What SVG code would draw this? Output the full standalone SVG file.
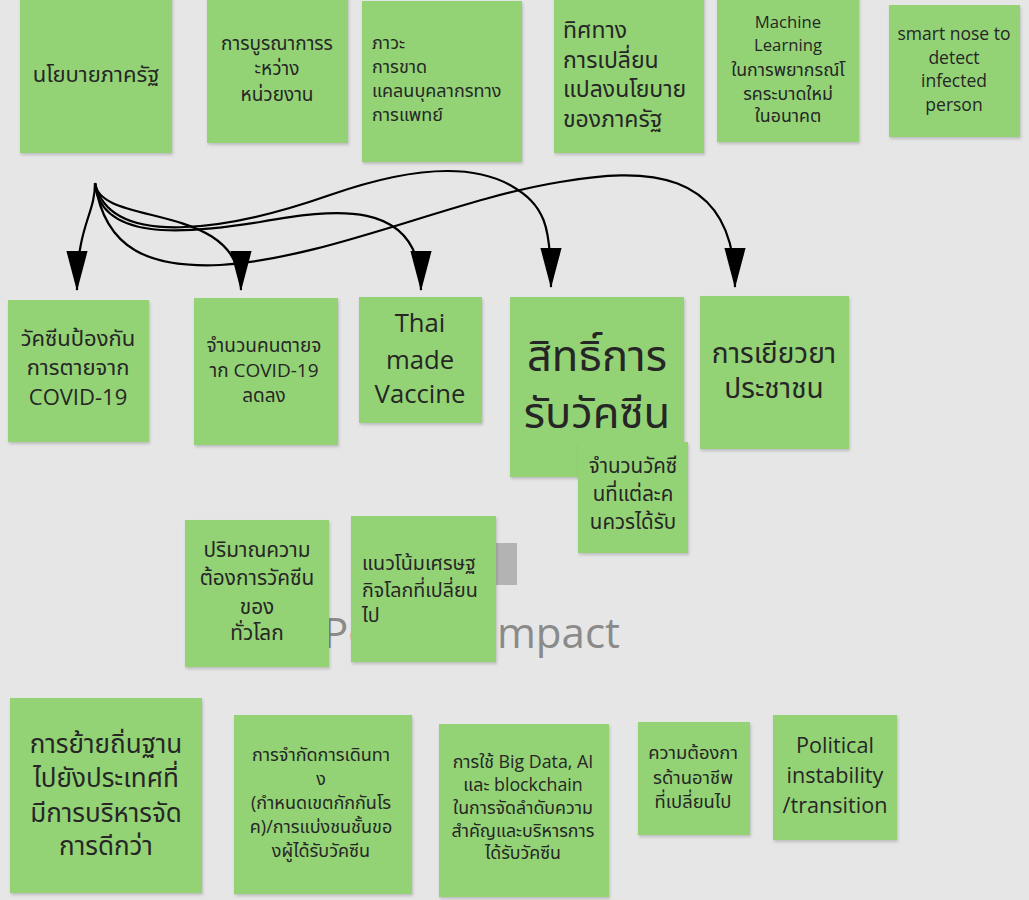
<svg xmlns="http://www.w3.org/2000/svg" width="1029" height="900" viewBox="0 0 1029 900">
<defs>
<style>
.n{fill:#93d375;filter:url(#sh)}
.t{font-family:"Open Sans","Noto Sans Thai","Noto Sans Thai UI","Noto Sans",sans-serif;fill:#262626}
.c{text-anchor:middle}
.e{stroke:#000;stroke-width:2.2;fill:none;marker-end:url(#ah)}
</style>
<filter id="sh" x="-5%" y="-5%" width="115%" height="115%">
<feDropShadow dx="1" dy="2" stdDeviation="1.5" flood-color="#000" flood-opacity="0.18"/>
</filter>
<marker id="ah" markerUnits="userSpaceOnUse" markerWidth="40" markerHeight="22" viewBox="0 0 36 19" refX="35" refY="9.5" orient="auto">
<path d="M0,0 L36,9.5 L0,19 Z" fill="#000"/>
</marker>
</defs>
<rect width="1029" height="900" fill="#e6e6e6"/>
<g id="bg-label">
<rect x="496" y="543" width="21" height="42" fill="#b3b3b3"/>
<text x="620" y="648" font-family="'Open Sans',sans-serif" font-size="42" fill="#8a8a8a" text-anchor="end">Positive Impact</text>
</g>
<g id="n1"><rect class="n" x="20" y="-4" width="152" height="157"/><text class="t c" font-size="22" x="96" y="82">นโยบายภาครัฐ</text></g>
<g id="n2"><rect class="n" x="207" y="-4" width="141" height="147"/><text class="t c" font-size="19"><tspan x="277" y="50">การบูรณาการร</tspan><tspan x="277" y="75">ะหว่าง</tspan><tspan x="277" y="101">หน่วยงาน</tspan></text></g>
<g id="n3"><rect class="n" x="362" y="1" width="160" height="161"/><text class="t" font-size="18"><tspan x="372" y="49">ภาวะ</tspan><tspan x="372" y="73">การขาด</tspan><tspan x="372" y="97">แคลนบุคลากรทาง</tspan><tspan x="372" y="121">การแพทย์</tspan></text></g>
<g id="n4"><rect class="n" x="554" y="-4" width="150" height="157"/><text class="t" font-size="23"><tspan x="563" y="38">ทิศทาง</tspan><tspan x="563" y="68">การเปลี่ยน</tspan><tspan x="563" y="97">แปลงนโยบาย</tspan><tspan x="563" y="127">ของภาครัฐ</tspan></text></g>
<g id="n5"><rect class="n" x="717" y="-4" width="142" height="146"/><text class="t c" font-size="16.7"><tspan x="788" y="28">Machine</tspan><tspan x="788" y="51">Learning</tspan><tspan x="788" y="76" font-size="17.8">ในการพยากรณ์โ</tspan><tspan x="788" y="99.5" font-size="17.8">รคระบาดใหม่</tspan><tspan x="788" y="122" font-size="17.8">ในอนาคต</tspan></text></g>
<g id="n6"><rect class="n" x="889" y="5" width="131" height="132"/><text class="t c" font-size="17.5"><tspan x="954" y="40">smart nose to</tspan><tspan x="954" y="64">detect</tspan><tspan x="954" y="87">infected</tspan><tspan x="954" y="111">person</tspan></text></g>
<g id="connectors">
<path class="e" d="M95,183 C95,215 77,225 77,290"/>
<path class="e" d="M95,183 C100,228 241,200 241,290"/>
<path class="e" d="M95,183 C100,240 180,235 260,222 C330,210 421,195 421,290"/>
<path class="e" d="M95,183 C110,250 230,230 330,195 C410,167 470,163 510,185 C545,205 551,225 551,287"/>
<path class="e" d="M95,183 C105,250 150,268 220,265 C330,258 450,200 560,182 C640,168 735,165 735,287"/>
</g>
<g id="n7"><rect class="n" x="8" y="300" width="141" height="142"/><text class="t c" font-size="22"><tspan x="78" y="346">วัคซีนป้องกัน</tspan><tspan x="78" y="375">การตายจาก</tspan><tspan x="78" y="405">COVID-19</tspan></text></g>
<g id="n8"><rect class="n" x="194" y="298" width="144" height="147"/><text class="t c" font-size="19"><tspan x="264" y="352">จำนวนคนตายจ</tspan><tspan x="264" y="377">าก COVID-19</tspan><tspan x="264" y="402">ลดลง</tspan></text></g>
<g id="n9"><rect class="n" x="359" y="297" width="123" height="126"/><text class="t c" font-size="25.7"><tspan x="420" y="332">Thai</tspan><tspan x="420" y="369">made</tspan><tspan x="420" y="403">Vaccine</tspan></text></g>
<g id="n10"><rect class="n" x="510" y="297" width="174" height="180"/><text class="t c" font-size="43.5"><tspan x="597" y="371">สิทธิ์การ</tspan><tspan x="597" y="428">รับวัคซีน</tspan></text></g>
<g id="n11"><rect class="n" x="578" y="442" width="110" height="111"/><text class="t c" font-size="20.5"><tspan x="633" y="473">จำนวนวัคซี</tspan><tspan x="633" y="501">นที่แต่ละค</tspan><tspan x="633" y="529">นควรได้รับ</tspan></text></g>
<g id="n12"><rect class="n" x="700" y="296" width="149" height="153"/><text class="t c" font-size="28"><tspan x="774" y="363">การเยียวยา</tspan><tspan x="774" y="398">ประชาชน</tspan></text></g>
<g id="n13"><rect class="n" x="185" y="520" width="144" height="147"/><text class="t c" font-size="20.8"><tspan x="257" y="557">ปริมาณความ</tspan><tspan x="257" y="585">ต้องการวัคซีน</tspan><tspan x="257" y="614">ของ</tspan><tspan x="257" y="640">ทั่วโลก</tspan></text></g>
<g id="n14"><rect class="n" x="351" y="516" width="145" height="146"/><text class="t" font-size="19.7"><tspan x="362" y="570">แนวโน้มเศรษฐ</tspan><tspan x="362" y="597">กิจโลกที่เปลี่ยน</tspan><tspan x="362" y="622">ไป</tspan></text></g>
<g id="n15"><rect class="n" x="10" y="698" width="192" height="195"/><text class="t c" font-size="26"><tspan x="106" y="753">การย้ายถิ่นฐาน</tspan><tspan x="106" y="787">ไปยังประเทศที่</tspan><tspan x="106" y="822">มีการบริหารจัด</tspan><tspan x="106" y="855">การดีกว่า</tspan></text></g>
<g id="n16"><rect class="n" x="234" y="715" width="178" height="179"/><text class="t c" font-size="18"><tspan x="321" y="761">การจำกัดการเดินทา</tspan><tspan x="321" y="785">ง</tspan><tspan x="321" y="809">(กำหนดเขตกักกันโร</tspan><tspan x="321" y="833">ค)/การแบ่งชนชั้นขอ</tspan><tspan x="321" y="857">งผู้ได้รับวัคซีน</tspan></text></g>
<g id="n17"><rect class="n" x="439" y="724" width="170" height="173"/><text class="t c" font-size="17.8"><tspan x="523" y="768">การใช้ Big Data, AI</tspan><tspan x="523" y="791">และ blockchain</tspan><tspan x="523" y="814">ในการจัดลำดับความ</tspan><tspan x="523" y="837">สำคัญและบริหารการ</tspan><tspan x="523" y="859">ได้รับวัคซีน</tspan></text></g>
<g id="n18"><rect class="n" x="638" y="722" width="112" height="113"/><text class="t c" font-size="18.4"><tspan x="693" y="759">ความต้องกา</tspan><tspan x="693" y="784">รด้านอาชีพ</tspan><tspan x="693" y="808">ที่เปลี่ยนไป</tspan></text></g>
<g id="n19"><rect class="n" x="773" y="715" width="124" height="125"/><text class="t c" font-size="21.6"><tspan x="835" y="753">Political</tspan><tspan x="835" y="783">instability</tspan><tspan x="835" y="813">/transition</tspan></text></g>
</svg>
